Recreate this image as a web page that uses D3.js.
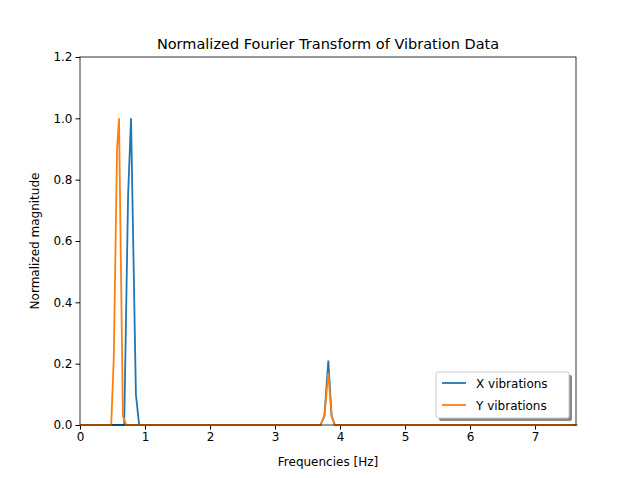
<!DOCTYPE html>
<html><head><meta charset="utf-8">
<script src="https://cdn.jsdelivr.net/npm/d3@7"></script>
<style>body{margin:0;background:#fff}text{font-family:"DejaVu Sans",sans-serif}</style>
</head><body><div id="chart"></div>
<script>
// series
var xFreq = [0, 0.68, 0.74, 0.785, 0.86, 0.91, 3.70, 3.76, 3.82, 3.87, 3.92, 7.65];
var xMag  = [0, 0,    0.75, 1.0,   0.1,  0,    0,    0.03, 0.21, 0.03, 0,    0];
var yFreq = [0, 0.48, 0.52, 0.57, 0.60, 0.66, 0.71, 3.70, 3.76, 3.82, 3.87, 3.92, 7.65];
var yMag  = [0, 0,    0.22, 0.9,  1.0,  0.03, 0,    0,    0.03, 0.17, 0.03, 0,    0];
var seriesNames = ["X vibrations", "Y vibrations"];
var colors = ["#1f77b4", "#ff7f0e"];
var xTicks = [0, 1, 2, 3, 4, 5, 6, 7];
var yTicks = [0, 0.2, 0.4, 0.6, 0.8, 1.0, 1.2];

var svgWidth = 640, svgHeight = 478;
var m = {left: 80, right: 64, top: 57, bottom: 53};
var w = svgWidth - m.left - m.right, h = svgHeight - m.top - m.bottom;

var svg = d3.select("#chart").append("svg")
  .attr("width", svgWidth).attr("height", svgHeight);
var g = svg.append("g").attr("transform", "translate(" + m.left + "," + m.top + ")");

var xScale = d3.scaleLinear().domain([0, 7.63]).range([0, w]);
var yScale = d3.scaleLinear().domain([0, 1.2]).range([h, 0]);

var xAxis = g.append("g").attr("transform", "translate(0," + h + ")")
  .call(d3.axisBottom(xScale).tickValues(xTicks).tickFormat(d3.format("d")).tickSizeOuter(0).tickSize(4.5));
var yAxis = g.append("g")
  .call(d3.axisLeft(yScale).tickValues(yTicks).tickFormat(d3.format(".1f")).tickSizeOuter(0).tickSize(4.5));
[xAxis, yAxis].forEach(function(a) {
  a.selectAll("text").attr("font-size", 12).attr("fill", "#000");
  a.select(".domain").remove();
});

var lineGen = d3.line().x(d => xScale(d[0])).y(d => yScale(d[1]));
var data = [d3.zip(xFreq, xMag), d3.zip(yFreq, yMag)];
data.forEach(function(s, i) {
  g.append("path").attr("d", lineGen(s)).attr("fill", "none")
    .attr("stroke", colors[i]).attr("stroke-width", 1.8);
});

g.append("rect").attr("width", w).attr("height", h)
  .attr("fill", "none").attr("stroke", "#000").attr("stroke-width", 0.8);

svg.append("text").attr("x", m.left + w / 2).attr("y", 49).attr("text-anchor", "middle")
  .attr("font-size", 14.5).text("Normalized Fourier Transform of Vibration Data");
svg.append("text").attr("x", m.left + w / 2).attr("y", 466).attr("text-anchor", "middle")
  .attr("font-size", 12).text("Frequencies [Hz]");
svg.append("text").attr("transform", "translate(39," + (m.top + h / 2) + ") rotate(-90)")
  .attr("text-anchor", "middle").attr("font-size", 12).text("Normalized magnitude");

// legend
var lg = svg.append("g").attr("transform", "translate(436,372)");
lg.append("rect").attr("x", 3).attr("y", 3).attr("width", 133).attr("height", 46).attr("rx", 2).attr("fill", "#888");
lg.append("rect").attr("width", 133).attr("height", 46).attr("rx", 2)
  .attr("fill", "#fff").attr("stroke", "#ccc");
seriesNames.forEach(function(n, i) {
  var y = 11 + i * 22;
  lg.append("line").attr("x1", 6).attr("x2", 30).attr("y1", y).attr("y2", y)
    .attr("stroke", colors[i]).attr("stroke-width", 1.8);
  lg.append("text").attr("x", 40).attr("y", y + 4.5).attr("font-size", 12).text(n);
});
</script></body></html>
